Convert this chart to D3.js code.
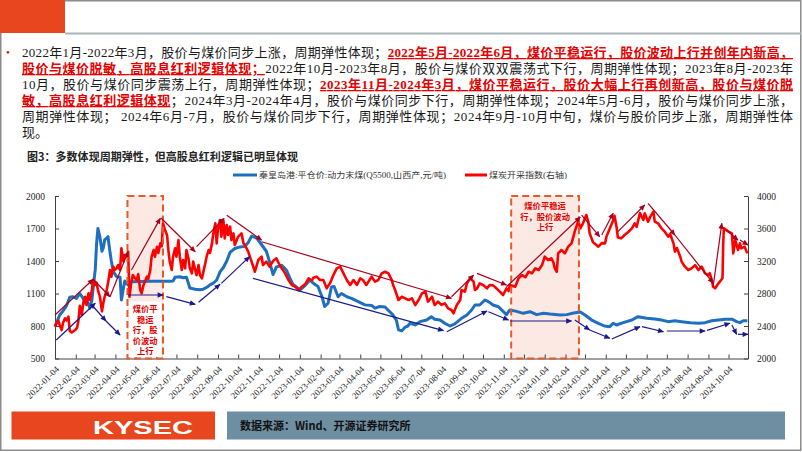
<!DOCTYPE html>
<html><head><meta charset="utf-8">
<script src="https://cdn.jsdelivr.net/npm/d3@7"></script>
<style>html,body{margin:0;padding:0;background:#fff;} svg{display:block}</style>
</head><body>
<svg id="c" width="802" height="452"></svg>
<script>
// ---------------- DATA ----------------
const tickLabels = ["2022-01-04","2022-02-04","2022-03-04","2022-04-04","2022-05-04","2022-06-04","2022-07-04","2022-08-04","2022-09-04","2022-10-04","2022-11-04","2022-12-04","2023-01-04","2023-02-04","2023-03-04","2023-04-04","2023-05-04","2023-06-04","2023-07-04","2023-08-04","2023-09-04","2023-10-04","2023-11-04","2023-12-04","2024-01-04","2024-02-04","2024-03-04","2024-04-04","2024-05-04","2024-06-04","2024-07-04","2024-08-04","2024-09-04","2024-10-04"];
const leftTicks = [500,800,1100,1400,1700,2000];
const rightTicks = [2000,2400,2800,3200,3600,4000];
const seriesNames = ["秦皇岛港:平仓价:动力末煤(Q5500,山西产,元/吨)","煤炭开采指数(右轴)"];

// 秦皇岛港 动力末煤 平仓价 (left axis)
const coalPrice = [["2022-01-04",794],["2022-01-11",902],["2022-01-16",940],["2022-01-21",985],["2022-01-26",1065],["2022-01-31",1070],["2022-02-05",1055],["2022-02-10",1100],["2022-02-15",1055],["2022-02-18",1010],["2022-02-20",1045],["2022-02-23",1000],["2022-02-25",965],["2022-02-28",1040],["2022-03-02",1160],["2022-03-05",1320],["2022-03-07",1560],["2022-03-09",1700],["2022-03-12",1620],["2022-03-15",1490],["2022-03-17",1520],["2022-03-19",1594],["2022-03-22",1610],["2022-03-24",1625],["2022-03-27",1480],["2022-03-29",1400],["2022-04-01",1300],["2022-04-06",1255],["2022-04-11",1250],["2022-04-13",1040],["2022-04-16",1150],["2022-04-18",1215],["2022-04-21",1190],["2022-04-23",1180],["2022-04-28",1209],["2022-05-11",1210],["2022-05-26",1212],["2022-06-10",1212],["2022-06-24",1212],["2022-06-29",1215],["2022-07-02",1250],["2022-07-09",1255],["2022-07-14",1245],["2022-07-19",1250],["2022-07-24",1150],["2022-08-01",1140],["2022-08-08",1135],["2022-08-13",1140],["2022-08-19",1160],["2022-08-23",1180],["2022-08-28",1195],["2022-09-02",1225],["2022-09-07",1300],["2022-09-12",1340],["2022-09-17",1400],["2022-09-22",1480],["2022-09-29",1515],["2022-10-07",1530],["2022-10-14",1535],["2022-10-19",1570],["2022-10-24",1630],["2022-10-28",1620],["2022-11-01",1610],["2022-11-08",1550],["2022-11-15",1490],["2022-11-20",1390],["2022-11-25",1275],["2022-11-30",1345],["2022-12-08",1360],["2022-12-15",1315],["2022-12-20",1245],["2022-12-25",1180],["2022-12-30",1160],["2023-01-04",1130],["2023-01-12",1175],["2023-01-19",1225],["2023-01-24",1195],["2023-01-31",1165],["2023-02-06",1070],["2023-02-10",980],["2023-02-15",1010],["2023-02-20",1160],["2023-02-24",1165],["2023-03-02",1070],["2023-03-07",1100],["2023-03-15",1070],["2023-03-22",1055],["2023-04-01",1025],["2023-04-11",995],["2023-04-21",990],["2023-04-26",965],["2023-05-03",980],["2023-05-11",975],["2023-05-18",932],["2023-05-23",900],["2023-05-28",850],["2023-05-31",765],["2023-06-05",755],["2023-06-10",790],["2023-06-14",800],["2023-06-17",825],["2023-06-25",810],["2023-07-02",840],["2023-07-12",855],["2023-07-19",886],["2023-07-24",863],["2023-08-01",855],["2023-08-08",825],["2023-08-16",800],["2023-08-23",820],["2023-09-02",871],["2023-09-10",902],["2023-09-17",948],["2023-09-22",994],["2023-09-29",994],["2023-10-07",1040],["2023-10-12",1025],["2023-10-19",994],["2023-10-27",978],["2023-11-03",935],["2023-11-08",905],["2023-11-13",948],["2023-11-23",935],["2023-12-03",917],["2023-12-13",932],["2023-12-23",905],["2024-01-02",917],["2024-01-12",910],["2024-01-27",902],["2024-02-06",905],["2024-02-16",920],["2024-02-26",930],["2024-03-04",902],["2024-03-14",855],["2024-03-24",825],["2024-04-02",800],["2024-04-10",794],["2024-04-15",825],["2024-04-20",809],["2024-04-30",831],["2024-05-13",855],["2024-05-22",886],["2024-06-04",871],["2024-06-16",865],["2024-06-26",855],["2024-07-06",840],["2024-07-16",848],["2024-07-26",840],["2024-08-08",831],["2024-08-20",825],["2024-08-30",831],["2024-09-09",848],["2024-09-19",855],["2024-09-29",863],["2024-10-09",863],["2024-10-16",840],["2024-10-21",831],["2024-10-26",848],["2024-11-01",848]];

// 煤炭开采指数 (right axis)
const coalIndex = [["2022-01-04",2391],["2022-01-06",2433],["2022-01-09",2465],["2022-01-11",2413],["2022-01-14",2350],["2022-01-16",2440],["2022-01-19",2494],["2022-01-21",2470],["2022-01-24",2515],["2022-01-26",2340],["2022-01-29",2320],["2022-02-03",2350],["2022-02-06",2380],["2022-02-08",2470],["2022-02-10",2650],["2022-02-13",2535],["2022-02-15",2679],["2022-02-18",2760],["2022-02-20",2658],["2022-02-23",2802],["2022-02-25",2720],["2022-02-28",2843],["2022-03-02",2966],["2022-03-05",2905],["2022-03-07",2930],["2022-03-09",2843],["2022-03-12",2760],["2022-03-15",2580],["2022-03-17",2679],["2022-03-19",2760],["2022-03-22",2843],["2022-03-24",2925],["2022-03-27",3089],["2022-03-29",3007],["2022-04-01",3130],["2022-04-03",3089],["2022-04-06",3110],["2022-04-08",3150],["2022-04-11",3089],["2022-04-13",3356],["2022-04-16",3192],["2022-04-18",3274],["2022-04-21",3253],["2022-04-23",3315],["2022-04-25",2760],["2022-04-27",2900],["2022-04-30",3027],["2022-05-03",2990],["2022-05-06",2966],["2022-05-08",3040],["2022-05-11",2843],["2022-05-13",2802],["2022-05-16",2905],["2022-05-21",3007],["2022-05-23",2980],["2022-05-26",3089],["2022-05-28",3253],["2022-05-31",3335],["2022-06-02",3253],["2022-06-05",3376],["2022-06-07",3300],["2022-06-10",3417],["2022-06-12",3380],["2022-06-14",3664],["2022-06-17",3582],["2022-06-20",3520],["2022-06-22",3335],["2022-06-24",3192],["2022-06-27",3089],["2022-06-29",3253],["2022-07-02",3356],["2022-07-04",3253],["2022-07-07",3458],["2022-07-09",3253],["2022-07-12",3089],["2022-07-14",3212],["2022-07-17",3110],["2022-07-19",3335],["2022-07-22",3230],["2022-07-24",3110],["2022-07-27",3048],["2022-07-29",3192],["2022-08-01",3089],["2022-08-03",3027],["2022-08-06",3150],["2022-08-08",3027],["2022-08-11",2987],["2022-08-13",3060],["2022-08-16",3171],["2022-08-18",3253],["2022-08-21",3335],["2022-08-23",3300],["2022-08-26",3417],["2022-08-28",3540],["2022-08-31",3664],["2022-09-02",3417],["2022-09-04",3602],["2022-09-07",3705],["2022-09-09",3500],["2022-09-12",3700],["2022-09-14",3479],["2022-09-17",3643],["2022-09-19",3520],["2022-09-22",3623],["2022-09-24",3458],["2022-09-27",3540],["2022-09-29",3397],["2022-10-04",3500],["2022-10-09",3540],["2022-10-12",3417],["2022-10-14",3397],["2022-10-19",3315],["2022-10-24",3192],["2022-10-29",3068],["2022-11-03",3212],["2022-11-08",3253],["2022-11-10",3150],["2022-11-15",3192],["2022-11-20",3130],["2022-11-25",3200],["2022-11-30",3233],["2022-12-03",3180],["2022-12-08",3110],["2022-12-13",3048],["2022-12-18",2966],["2022-12-23",2905],["2022-12-28",2884],["2023-01-02",2843],["2023-01-07",2884],["2023-01-12",2915],["2023-01-17",2987],["2023-01-22",2960],["2023-01-24",2994],["2023-01-29",3007],["2023-02-03",2966],["2023-02-08",2966],["2023-02-13",2864],["2023-02-18",2925],["2023-02-23",3027],["2023-02-28",3110],["2023-03-05",3130],["2023-03-10",3048],["2023-03-15",2966],["2023-03-20",2905],["2023-03-25",2966],["2023-03-30",2905],["2023-04-04",2987],["2023-04-08",2966],["2023-04-13",2905],["2023-04-21",3007],["2023-04-26",2946],["2023-05-01",2966],["2023-05-06",3048],["2023-05-11",3068],["2023-05-16",3048],["2023-05-21",2966],["2023-05-23",2905],["2023-05-26",2843],["2023-05-31",2720],["2023-06-05",2760],["2023-06-10",2740],["2023-06-15",2720],["2023-06-20",2740],["2023-06-25",2658],["2023-06-30",2720],["2023-07-05",2802],["2023-07-10",2822],["2023-07-14",2700],["2023-07-20",2760],["2023-07-24",2658],["2023-07-29",2700],["2023-08-03",2660],["2023-08-08",2679],["2023-08-13",2617],["2023-08-18",2597],["2023-08-21",2556],["2023-08-26",2658],["2023-08-31",2720],["2023-09-02",2843],["2023-09-07",2822],["2023-09-10",2925],["2023-09-15",2987],["2023-09-20",2946],["2023-09-22",2843],["2023-09-25",2860],["2023-09-29",2925],["2023-10-04",2905],["2023-10-10",2864],["2023-10-14",2905],["2023-10-19",2900],["2023-10-24",2864],["2023-10-29",2822],["2023-11-03",2781],["2023-11-08",2864],["2023-11-11",2830],["2023-11-13",2905],["2023-11-21",2884],["2023-11-26",2987],["2023-12-01",3027],["2023-12-06",3000],["2023-12-11",3068],["2023-12-16",3050],["2023-12-21",3110],["2023-12-26",3089],["2023-12-31",3150],["2024-01-04",3253],["2024-01-09",3212],["2024-01-14",3233],["2024-01-17",3180],["2024-01-19",3110],["2024-01-22",3068],["2024-01-24",3294],["2024-01-29",3335],["2024-02-03",3294],["2024-02-08",3376],["2024-02-13",3417],["2024-02-18",3570],["2024-02-21",3640],["2024-02-23",3700],["2024-02-26",3600],["2024-03-01",3664],["2024-03-06",3766],["2024-03-09",3680],["2024-03-11",3540],["2024-03-16",3430],["2024-03-21",3397],["2024-03-24",3376],["2024-03-29",3420],["2024-04-03",3417],["2024-04-05",3500],["2024-04-10",3600],["2024-04-15",3700],["2024-04-17",3756],["2024-04-20",3622],["2024-04-22",3490],["2024-04-27",3479],["2024-05-02",3520],["2024-05-08",3561],["2024-05-13",3602],["2024-05-17",3664],["2024-05-20",3620],["2024-05-25",3790],["2024-05-30",3705],["2024-06-01",3787],["2024-06-06",3684],["2024-06-09",3740],["2024-06-14",3807],["2024-06-16",3684],["2024-06-21",3664],["2024-06-26",3602],["2024-07-01",3561],["2024-07-06",3500],["2024-07-09",3530],["2024-07-14",3417],["2024-07-16",3315],["2024-07-19",3360],["2024-07-24",3253],["2024-07-26",3192],["2024-07-31",3130],["2024-08-05",3089],["2024-08-10",3110],["2024-08-15",3150],["2024-08-20",3089],["2024-08-25",3130],["2024-08-30",3048],["2024-09-04",3027],["2024-09-06",3050],["2024-09-09",2966],["2024-09-11",2884],["2024-09-14",2864],["2024-09-19",2925],["2024-09-23",2966],["2024-09-25",2990],["2024-09-26",3400],["2024-09-27",3602],["2024-10-04",3561],["2024-10-09",3540],["2024-10-11",3294],["2024-10-14",3458],["2024-10-16",3400],["2024-10-18",3335],["2024-10-21",3417],["2024-10-23",3356],["2024-10-28",3376],["2024-11-01",3294]];

// trend arrows on the index (right-axis units): [from, value, to, value]
const indexArrows = [["2022-01-04",2535,"2022-03-02",2975],["2022-03-02",2975,"2022-03-27",2760],["2022-03-27",2760,"2022-04-23",3317],["2022-04-28",3089,"2022-06-10",3725],["2022-06-11",3729,"2022-08-01",3314],["2022-08-03",3376,"2022-09-13",3725],["2022-09-17",3762,"2022-11-08",3458],["2022-11-08",3437,"2023-08-18",2741],["2023-08-18",2760,"2023-09-20",3027],["2023-09-25",3048,"2023-11-08",2904],["2023-11-08",2883,"2024-02-26",3741],["2024-02-28",3766,"2024-03-26",3499],["2024-03-29",3520,"2024-04-15",3787],["2024-04-22",3561,"2024-06-01",3889],["2024-06-06",3910,"2024-07-16",3520],["2024-07-16",3520,"2024-09-11",2929],["2024-09-11",2883,"2024-09-24",3664],["2024-10-01",3581,"2024-10-18",3458],["2024-10-21",3458,"2024-11-02",3397]];
// trend arrows on coal price (left-axis units)
const priceArrows = [["2022-01-06",671,"2022-03-05",1010],["2022-02-28",994,"2022-03-21",846],["2022-03-21",846,"2022-04-11",717],["2022-04-23",1086,"2022-06-14",1086],["2022-06-19",1071,"2022-08-01",1000],["2022-08-06",1019,"2022-09-07",1185],["2022-09-09",1194,"2022-10-21",1440],["2022-10-26",1240,"2023-08-06",757],["2023-08-11",747,"2023-10-10",939],["2023-10-12",932,"2023-11-11",855],["2023-11-13",846,"2024-02-13",846],["2024-02-18",855,"2024-03-11",763],["2024-03-11",763,"2024-04-10",687],["2024-04-13",680,"2024-05-25",794],["2024-05-28",794,"2024-06-29",747],["2024-07-04",754,"2024-08-30",754],["2024-09-02",760,"2024-10-06",825],["2024-10-09",809,"2024-10-16",723],["2024-10-18",723,"2024-11-02",723]];
// highlighted periods
const periods = [
  {from:"2022-04-22", to:"2022-06-14", lines:["煤价平","稳运","行，股","价波动","上行"], at:"bottom"},
  {from:"2023-11-15", to:"2024-02-24", lines:["煤价平稳运","行，股价波动","上行"], at:"top"}
];

const paragraph = [
  [["n","2022年1月-2022年3月，股价与煤价同步上涨，周期弹性体现；"],["r","2022年5月-2022年6月，煤价平稳运行，股价波动上行并创年内新高，"]],
  [["r","股价与煤价脱敏，高股息红利逻辑体现；"],["n","2022年10月-2023年8月，股价与煤价双双震荡式下行，周期弹性体现；2023年8月-2023年"]],
  [["n","10月，股价与煤价同步震荡上行，周期弹性体现；"],["r","2023年11月-2024年3月，煤价平稳运行，股价大幅上行再创新高，股价与煤价脱"]],
  [["r","敏，高股息红利逻辑体现"],["n","；2024年3月-2024年4月，股价与煤价同步下行，周期弹性体现；2024年5月-6月，股价与煤价同步上涨，"]],
  [["n","周期弹性体现； 2024年6月-7月，股价与煤价同步下行，周期弹性体现；2024年9月-10月中旬，煤价与股价同步上涨，周期弹性体"]],
  [["n","现。"]]
];
const chartTitle = "图3：多数体现周期弹性，但高股息红利逻辑已明显体现";
const sourceText = "数据来源：Wind、开源证券研究所";

// ---------------- DRAW ----------------
const svg = d3.select("#c");
const serif = "'Liberation Serif','Noto Sans CJK SC',serif";
const cjk = "'Noto Sans CJK SC','Liberation Serif',sans-serif";
const parse = d3.timeParse("%Y-%m-%d");
const BLUE = "#1f6fbf", RED = "#ff0000", DRED = "#a8001c", NAVY = "#1a1a8c", ORANGE = "#e8461e";

// page frame & header
svg.append("rect").attr("x",0.75).attr("y",0.75).attr("width",800).attr("height",449.5)
  .attr("fill","none").attr("stroke","#8c8c8c").attr("stroke-width",1.5);
svg.append("rect").attr("x",0).attr("y",0).attr("width",65).attr("height",33).attr("fill",ORANGE);
svg.append("line").attr("x1",65).attr("x2",801).attr("y1",33.5).attr("y2",33.5).attr("stroke","#a9b3ba").attr("stroke-width",2);

// paragraph
svg.append("text").attr("x",6).attr("y",56).attr("fill","#e00000").attr("font-size",11).text("•");
paragraph.forEach((line,i)=>{
  const t = svg.append("text").attr("x",22).attr("y",57 + i*16)
    .attr("font-family",serif).attr("font-size",13).attr("fill","#1a1a1a");
  if(i < paragraph.length-1) t.attr("textLength",771).attr("lengthAdjust","spacing");
  line.forEach(([k,s])=>{
    const ts = t.append("tspan").text(s);
    if(k==="r") ts.attr("fill","#e60000").attr("font-weight","bold").style("text-decoration","underline");
  });
});

// chart title
svg.append("text").attr("x",27).attr("y",161).attr("font-family",cjk).attr("font-weight","bold")
  .attr("font-size",11).attr("fill","#222").attr("textLength",271).text(chartTitle);

// legend
const leg = [{c:BLUE,x:233,w:24,t:seriesNames[0],tl:187},{c:RED,x:465,w:22,t:seriesNames[1],tl:78}];
leg.forEach(l=>{
  svg.append("line").attr("x1",l.x).attr("x2",l.x+l.w).attr("y1",175).attr("y2",175).attr("stroke",l.c).attr("stroke-width",3);
  svg.append("text").attr("x",l.x+l.w+2).attr("y",178).attr("font-family",serif).attr("font-size",8.5)
    .attr("fill","#333").attr("textLength",l.tl).attr("lengthAdjust","spacingAndGlyphs").text(l.t);
});

// scales
const x = d3.scaleTime().domain([parse("2022-01-04"), parse("2024-11-02")]).range([55,748]);
const yL = d3.scaleLinear().domain([500,2000]).range([358.5,196]);
const yR = d3.scaleLinear().domain([2000,4000]).range([358.5,196]);

// highlight boxes (fill behind lines)
const boxG = svg.append("g");
periods.forEach(p=>{
  const x0 = x(parse(p.from)), x1 = x(parse(p.to));
  boxG.append("rect").attr("x",x0).attr("y",yL(2000)).attr("width",x1-x0).attr("height",yL(500)-yL(2000))
    .attr("fill","#fbe2d9").attr("fill-opacity",0.75);
});

// axes
const axG = svg.append("g").attr("font-family",serif);
const gl = axG.append("g").attr("transform","translate(55,0)")
  .call(d3.axisLeft(yL).tickValues(leftTicks).tickSizeInner(-4).tickSizeOuter(0).tickPadding(10).tickFormat(d3.format("d")));
const gr = axG.append("g").attr("transform","translate(748,0)")
  .call(d3.axisRight(yR).tickValues(rightTicks).tickSizeInner(-4).tickSizeOuter(0).tickPadding(9).tickFormat(d3.format("d")));
const gx = axG.append("g").attr("transform","translate(0,358.5)")
  .call(d3.axisBottom(x).tickValues(tickLabels.map(parse)).tickSizeInner(-4).tickSizeOuter(0).tickFormat(d3.timeFormat("%Y-%m-%d")));
[gl,gr,gx].forEach(g=>{
  g.selectAll(".domain").attr("stroke","#404040");
  g.selectAll(".tick line").attr("stroke","#404040");
  g.selectAll("text").attr("font-family",serif).attr("font-size",9.5).attr("fill","#222");
});
gx.selectAll("text").attr("y",0).attr("dy","0.35em").attr("font-size",9)
  .attr("text-anchor","end").attr("transform","translate(2,9) rotate(-45)");

// lines
const lineL = d3.line().x(d=>x(parse(d[0]))).y(d=>yL(d[1]));
const lineR = d3.line().x(d=>x(parse(d[0]))).y(d=>yR(d[1]));
svg.append("path").datum(coalPrice).attr("d",lineL).attr("fill","none").attr("stroke",BLUE)
  .attr("stroke-width",3).attr("stroke-linejoin","round");
svg.append("path").datum(coalIndex).attr("d",lineR).attr("fill","none").attr("stroke",RED)
  .attr("stroke-width",2.6).attr("stroke-linejoin","round");

// box borders + text
periods.forEach(p=>{
  const x0 = x(parse(p.from)), x1 = x(parse(p.to)), cx=(x0+x1)/2;
  svg.append("rect").attr("x",x0).attr("y",yL(2000)).attr("width",x1-x0).attr("height",yL(500)-yL(2000))
    .attr("fill","none").attr("stroke","#e8592a").attr("stroke-width",2).attr("stroke-dasharray","7,4");
  const n = p.lines.length, lh = 10.6;
  if(p.at==="bottom"){
    const top = yL(500) - n*lh - 4;
    svg.append("rect").attr("x",x0+1.5).attr("y",top).attr("width",x1-x0-3).attr("height",yL(500)-top-1.5).attr("fill","#fff");
    p.lines.forEach((s,i)=>svg.append("text").attr("x",cx).attr("y",top+10.5+i*lh).attr("text-anchor","middle")
      .attr("font-family",cjk).attr("font-weight","bold").attr("font-size",8.3).attr("fill","#e00000").text(s));
  } else {
    p.lines.forEach((s,i)=>svg.append("text").attr("x",cx).attr("y",yL(2000)+13+i*lh).attr("text-anchor","middle")
      .attr("font-family",cjk).attr("font-weight","bold").attr("font-size",8.3).attr("fill","#e00000").text(s));
  }
});

// arrow markers
const defs = svg.append("defs");
[["ahR",DRED],["ahB",NAVY]].forEach(([id,c])=>{
  defs.append("marker").attr("id",id).attr("viewBox","0 0 10 10").attr("refX",9).attr("refY",5)
    .attr("markerWidth",7).attr("markerHeight",6).attr("markerUnits","userSpaceOnUse").attr("orient","auto")
    .append("path").attr("d","M0,0.5 L10,5 L0,9.5 z").attr("fill",c);
});
indexArrows.forEach(a=>svg.append("line").attr("x1",x(parse(a[0]))).attr("y1",yR(a[1]))
  .attr("x2",x(parse(a[2]))).attr("y2",yR(a[3])).attr("stroke",DRED).attr("stroke-width",1.2).attr("marker-end","url(#ahR)"));
priceArrows.forEach(a=>svg.append("line").attr("x1",x(parse(a[0]))).attr("y1",yL(a[1]))
  .attr("x2",x(parse(a[2]))).attr("y2",yL(a[3])).attr("stroke",NAVY).attr("stroke-width",1.2).attr("marker-end","url(#ahB)"));

// footer
svg.append("rect").attr("x",11.5).attr("y",411.5).attr("width",203.5).attr("height",28).attr("fill",ORANGE);
svg.append("text").attr("x",93).attr("y",433.5).attr("font-family","'Liberation Sans',Arial,sans-serif")
  .attr("font-weight","bold").attr("font-size",19).attr("fill","#fff").attr("textLength",100)
  .attr("lengthAdjust","spacingAndGlyphs").text("KYSEC");
svg.append("rect").attr("x",227).attr("y",411.5).attr("width",558).attr("height",28).attr("fill","#6e8ea2");
svg.append("text").attr("x",240).attr("y",429.5).attr("font-family",cjk).attr("font-weight","bold")
  .attr("font-size",11).attr("fill","#111").text(sourceText);
</script></body></html>
